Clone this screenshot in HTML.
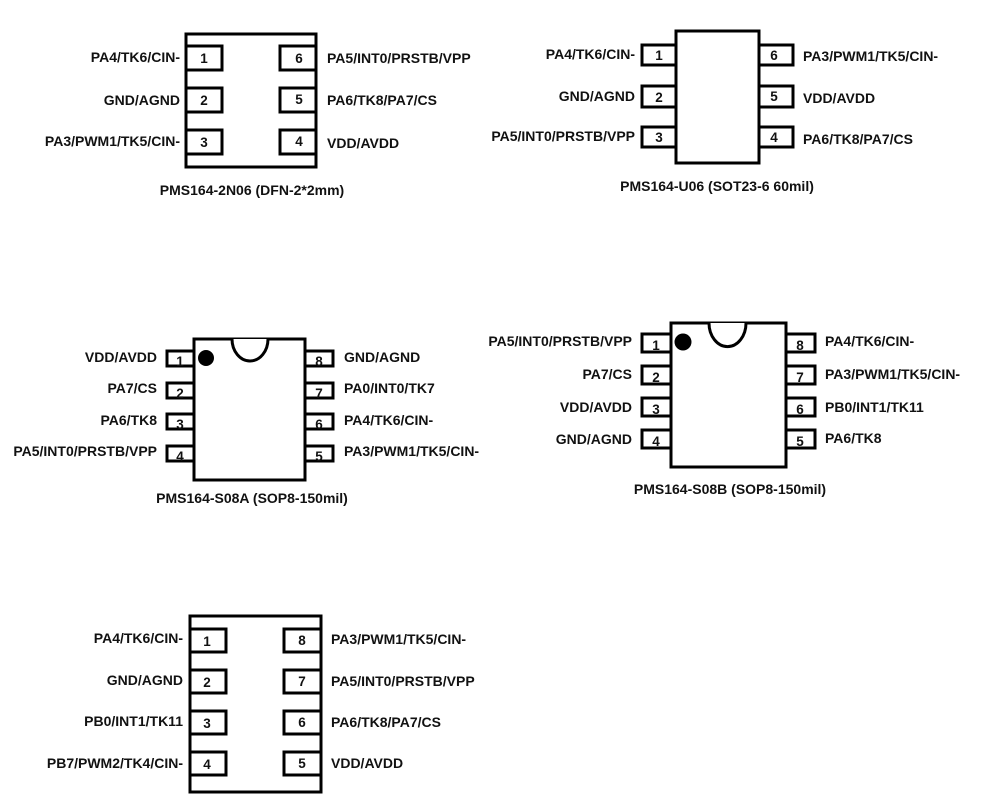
<!DOCTYPE html>
<html><head><meta charset="utf-8"><style>
html,body{margin:0;padding:0;background:#fff;}
svg{display:block;}
text{font-family:"Liberation Sans",Arial,sans-serif;font-weight:bold;font-size:14px;fill:#111;}
.n{font-size:13.5px;text-anchor:middle;}
.l{text-anchor:end;}
.c{text-anchor:middle;}
rect{fill:#fff;stroke:#000;stroke-width:3;}
</style></head><body>
<svg width="989" height="798" viewBox="0 0 989 798" xmlns="http://www.w3.org/2000/svg">
<!-- DFN 2N06 -->
<rect x="186" y="34" width="130" height="133"/>
<rect x="186" y="46" width="36" height="24"/><text class="n" x="204" y="63">1</text>
<rect x="186" y="88" width="36" height="24"/><text class="n" x="204" y="105">2</text>
<rect x="186" y="130" width="36" height="24"/><text class="n" x="204" y="147">3</text>
<rect x="280" y="46" width="36" height="24"/><text class="n" x="299" y="63">6</text>
<rect x="280" y="88" width="36" height="24"/><text class="n" x="299" y="104">5</text>
<rect x="280" y="130" width="36" height="24"/><text class="n" x="299" y="146">4</text>
<text class="l" x="180" y="62">PA4/TK6/CIN-</text>
<text class="l" x="180" y="105">GND/AGND</text>
<text class="l" x="180" y="146">PA3/PWM1/TK5/CIN-</text>
<text x="327" y="63">PA5/INT0/PRSTB/VPP</text>
<text x="327" y="105">PA6/TK8/PA7/CS</text>
<text x="327" y="148">VDD/AVDD</text>
<text class="c" x="252" y="195">PMS164-2N06 (DFN-2*2mm)</text>

<!-- SOT23-6 U06 -->
<rect x="676" y="31" width="83" height="132"/>
<rect x="642" y="45" width="34" height="20"/><text class="n" x="659" y="60">1</text>
<rect x="642" y="86" width="34" height="21"/><text class="n" x="659" y="102">2</text>
<rect x="642" y="127" width="34" height="20"/><text class="n" x="659" y="142">3</text>
<rect x="759" y="45" width="34" height="20"/><text class="n" x="774" y="60">6</text>
<rect x="759" y="86" width="34" height="21"/><text class="n" x="774" y="101">5</text>
<rect x="759" y="127" width="34" height="20"/><text class="n" x="774" y="142">4</text>
<text class="l" x="635" y="59">PA4/TK6/CIN-</text>
<text class="l" x="635" y="101">GND/AGND</text>
<text class="l" x="635" y="141">PA5/INT0/PRSTB/VPP</text>
<text x="803" y="61">PA3/PWM1/TK5/CIN-</text>
<text x="803" y="103">VDD/AVDD</text>
<text x="803" y="144">PA6/TK8/PA7/CS</text>
<text class="c" x="717" y="191">PMS164-U06 (SOT23-6 60mil)</text>

<!-- SOP8 S08A -->
<rect x="194" y="339" width="111" height="141"/>
<path d="M232,339 A18,22 0 0 0 268,339" fill="#fff" stroke="#000" stroke-width="3"/>
<circle cx="206" cy="358" r="8" fill="#000"/>
<rect x="167" y="351" width="27" height="15"/><text class="n" x="180" y="366">1</text>
<rect x="167" y="383" width="27" height="15"/><text class="n" x="180" y="398">2</text>
<rect x="167" y="414" width="27" height="15"/><text class="n" x="180" y="429">3</text>
<rect x="167" y="446" width="27" height="15"/><text class="n" x="180" y="461">4</text>
<rect x="305" y="351" width="28" height="15"/><text class="n" x="319" y="366">8</text>
<rect x="305" y="383" width="28" height="15"/><text class="n" x="319" y="398">7</text>
<rect x="305" y="414" width="28" height="15"/><text class="n" x="319" y="429">6</text>
<rect x="305" y="446" width="28" height="15"/><text class="n" x="319" y="461">5</text>
<text class="l" x="157" y="362">VDD/AVDD</text>
<text class="l" x="157" y="393">PA7/CS</text>
<text class="l" x="157" y="425">PA6/TK8</text>
<text class="l" x="157" y="456">PA5/INT0/PRSTB/VPP</text>
<text x="344" y="362">GND/AGND</text>
<text x="344" y="393">PA0/INT0/TK7</text>
<text x="344" y="425">PA4/TK6/CIN-</text>
<text x="344" y="456">PA3/PWM1/TK5/CIN-</text>
<text class="c" x="252" y="503">PMS164-S08A (SOP8-150mil)</text>

<!-- SOP8 S08B -->
<rect x="671" y="323" width="115" height="144"/>
<path d="M709,323 A18,23 0 0 0 746,323" fill="#fff" stroke="#000" stroke-width="3"/>
<circle cx="683" cy="342" r="8.5" fill="#000"/>
<rect x="642" y="334" width="29" height="18"/><text class="n" x="656" y="350">1</text>
<rect x="642" y="366" width="29" height="18"/><text class="n" x="656" y="382">2</text>
<rect x="642" y="398" width="29" height="18"/><text class="n" x="656" y="414">3</text>
<rect x="642" y="430" width="29" height="18"/><text class="n" x="656" y="446">4</text>
<rect x="786" y="334" width="29" height="18"/><text class="n" x="800" y="350">8</text>
<rect x="786" y="366" width="29" height="18"/><text class="n" x="800" y="382">7</text>
<rect x="786" y="398" width="29" height="18"/><text class="n" x="800" y="414">6</text>
<rect x="786" y="430" width="29" height="18"/><text class="n" x="800" y="446">5</text>
<text class="l" x="632" y="346">PA5/INT0/PRSTB/VPP</text>
<text class="l" x="632" y="379">PA7/CS</text>
<text class="l" x="632" y="412">VDD/AVDD</text>
<text class="l" x="632" y="444">GND/AGND</text>
<text x="825" y="346">PA4/TK6/CIN-</text>
<text x="825" y="379">PA3/PWM1/TK5/CIN-</text>
<text x="825" y="412">PB0/INT1/TK11</text>
<text x="825" y="443">PA6/TK8</text>
<text class="c" x="730" y="494">PMS164-S08B (SOP8-150mil)</text>

<!-- bottom 8-pin DFN -->
<rect x="190" y="616" width="131" height="176"/>
<rect x="190" y="629" width="36" height="23"/><text class="n" x="207" y="646">1</text>
<rect x="190" y="670" width="36" height="23"/><text class="n" x="207" y="687">2</text>
<rect x="190" y="711" width="36" height="23"/><text class="n" x="207" y="728">3</text>
<rect x="190" y="752" width="36" height="23"/><text class="n" x="207" y="769">4</text>
<rect x="284" y="629" width="37" height="23"/><text class="n" x="302" y="645">8</text>
<rect x="284" y="670" width="37" height="23"/><text class="n" x="302" y="686">7</text>
<rect x="284" y="711" width="37" height="23"/><text class="n" x="302" y="727">6</text>
<rect x="284" y="752" width="37" height="23"/><text class="n" x="302" y="768">5</text>
<text class="l" x="183" y="643">PA4/TK6/CIN-</text>
<text class="l" x="183" y="685">GND/AGND</text>
<text class="l" x="183" y="726">PB0/INT1/TK11</text>
<text class="l" x="183" y="768">PB7/PWM2/TK4/CIN-</text>
<text x="331" y="644">PA3/PWM1/TK5/CIN-</text>
<text x="331" y="686">PA5/INT0/PRSTB/VPP</text>
<text x="331" y="727">PA6/TK8/PA7/CS</text>
<text x="331" y="768">VDD/AVDD</text>
</svg>
</body></html>
